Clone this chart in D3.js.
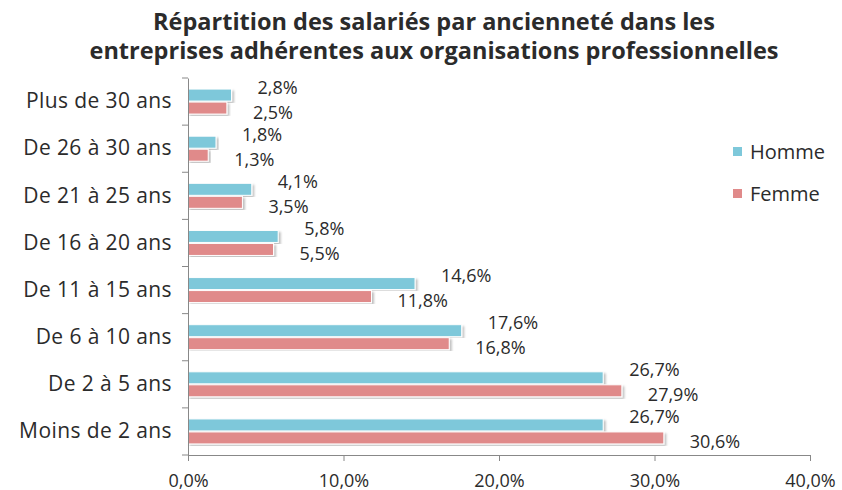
<!DOCTYPE html>
<html>
<head>
<meta charset="utf-8">
<script src="https://cdn.jsdelivr.net/npm/d3@7"></script>
<style>
  body { margin: 0; background: #fff; }
  svg text { font-family: "Open Sans", Lato, sans-serif; }
</style>
</head>
<body>
<svg id="chart" width="842" height="490"></svg>
<script>
// categories, top to bottom
var categories = ['Plus de 30 ans', 'De 26 à 30 ans', 'De 21 à 25 ans', 'De 16 à 20 ans',
    'De 11 à 15 ans', 'De 6 à 10 ans', 'De 2 à 5 ans', 'Moins de 2 ans'];
var homme = [2.8, 1.8, 4.1, 5.8, 14.6, 17.6, 26.7, 26.7];
var femme = [2.5, 1.3, 3.5, 5.5, 11.8, 16.8, 27.9, 30.6];
var seriesNames = ['Homme', 'Femme'];
var xTicks = [0, 10, 20, 30, 40];
var titleLines = ['Répartition des salariés par ancienneté dans les',
    'entreprises adhérentes aux organisations professionnelles'];

var colors = { Homme: '#7ec8da', Femme: '#e08a8a' };
var textColor = '#2b2b2b';
var fmt = function (v) { return v.toFixed(1).replace('.', ',') + '%'; };

var svg = d3.select('#chart');

var margin = { left: 188, right: 32, top: 78, bottom: 35 };
var width = 842 - margin.left - margin.right;
var height = 490 - margin.top - margin.bottom;

var x = d3.scaleLinear().domain([0, 40]).range([0, width]);
var y = d3.scaleBand().domain(categories).range([0, height]);
var sub = d3.scaleBand().domain(seriesNames).range([0, 26]);

// title
svg.append('g').selectAll('text')
    .data(titleLines)
    .enter().append('text')
        .attr('x', 434)
        .attr('y', function (d, i) { return 30 + i * 29; })
        .attr('text-anchor', 'middle')
        .attr('font-size', '23.5px')
        .attr('font-weight', 'bold')
        .attr('fill', textColor)
        .text(function (d) { return d; });

var g = svg.append('g').attr('transform', 'translate(' + margin.left + ',' + margin.top + ')');

var defs = svg.append('defs');
defs.append('filter').attr('id', 'shadow')
    .append('feDropShadow')
        .attr('dx', 2).attr('dy', 2).attr('stdDeviation', 1.2)
        .attr('flood-color', '#000').attr('flood-opacity', 0.25);

var rows = categories.map(function (c, i) {
    return { cat: c, values: [{ s: 'Homme', v: homme[i] }, { s: 'Femme', v: femme[i] }] };
});

var rowG = g.selectAll('g.row')
    .data(rows)
    .enter().append('g')
        .attr('class', 'row')
        .attr('transform', function (d) {
            return 'translate(0,' + (y(d.cat) + (y.bandwidth() - 26) / 2) + ')';
        });

rowG.selectAll('rect')
    .data(function (d) { return d.values; })
    .enter().append('rect')
        .attr('x', 0)
        .attr('y', function (d) { return sub(d.s) + 0.5; })
        .attr('width', function (d) { return x(d.v); })
        .attr('height', sub.bandwidth() - 1)
        .attr('fill', function (d) { return colors[d.s]; })
        .attr('stroke', '#fff')
        .attr('stroke-width', 1)
        .attr('filter', 'url(#shadow)');

rowG.selectAll('text')
    .data(function (d) { return d.values; })
    .enter().append('text')
        .attr('x', function (d) { return x(d.v) + 26; })
        .attr('y', function (d) { return d.s === 'Homme' ? sub(d.s) + 5 : sub(d.s) + 17; })
        .attr('font-size', '18px')
        .attr('fill', textColor)
        .text(function (d) { return fmt(d.v); });

// axes
var xAxis = g.append('g')
    .attr('transform', 'translate(0,' + height + ')')
    .call(d3.axisBottom(x).tickValues(xTicks).tickSize(6).tickFormat(fmt));
xAxis.attr('font-family', null);
xAxis.select('.domain').attr('stroke', '#888');
xAxis.selectAll('.tick line').attr('stroke', '#888');
xAxis.selectAll('.tick text')
    .attr('font-size', '18px')
    .attr('fill', textColor)
    .attr('dy', '1.25em');

var yAxis = g.append('g')
    .call(d3.axisLeft(y).tickSize(0).tickPadding(16));
yAxis.attr('font-family', null);
yAxis.select('.domain').attr('stroke', '#888');
yAxis.selectAll('.tick text')
    .attr('font-size', '21px')
    .attr('letter-spacing', '0.4px')
    .attr('fill', textColor);

// category separators on the y axis
g.append('g').selectAll('line')
    .data(categories.concat(['end']))
    .enter().append('line')
        .attr('x1', -6).attr('x2', 0)
        .attr('y1', function (d, i) { return i * y.step(); })
        .attr('y2', function (d, i) { return i * y.step(); })
        .attr('stroke', '#888');

// legend
var legend = svg.append('g').attr('transform', 'translate(733,152)');
var legItem = legend.selectAll('g')
    .data(seriesNames)
    .enter().append('g')
        .attr('transform', function (d, i) { return 'translate(0,' + i * 42 + ')'; });
legItem.append('rect')
    .attr('x', 0).attr('y', -5)
    .attr('width', 9).attr('height', 9)
    .attr('fill', function (d) { return colors[d]; });
legItem.append('text')
    .attr('x', 17).attr('y', 7)
    .attr('font-size', '20px')
    .attr('fill', textColor)
    .text(function (d) { return d; });
</script>
</body>
</html>
